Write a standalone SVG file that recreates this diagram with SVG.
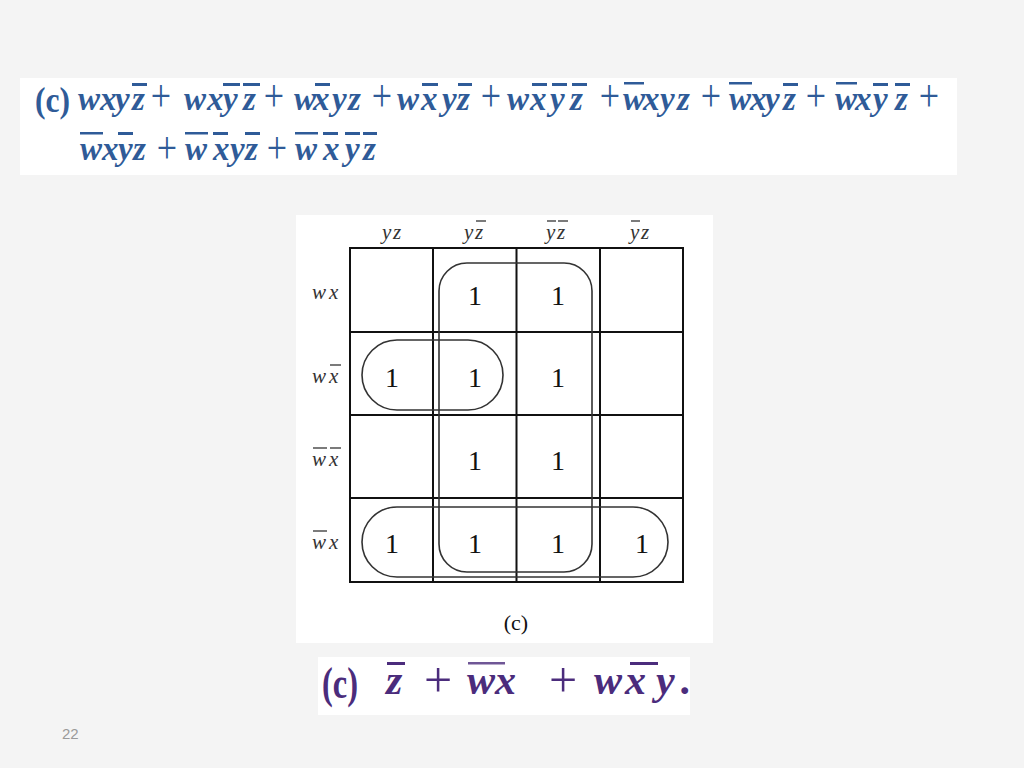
<svg xmlns="http://www.w3.org/2000/svg" width="1024" height="768" viewBox="0 0 1024 768">
<style>
.eq{font-family:"Liberation Serif",serif;font-style:italic;font-weight:bold;font-size:33px;fill:#2f5b98}
.pl{font-family:"Liberation Serif",serif;font-size:36px;fill:#2f5b98;text-anchor:middle}
.bar{fill:#2f5b98}
.res{font-family:"Liberation Serif",serif;font-style:italic;font-weight:bold;font-size:42px;fill:#4b2c7c}
.rpl{font-family:"Liberation Serif",serif;font-size:50px;fill:#4b2c7c;text-anchor:middle}
.rbar{fill:#4b2c7c}
.lab{font-family:"Liberation Serif",serif;font-style:italic;font-size:21px;fill:#333}
.one{font-family:"Liberation Serif",serif;font-size:28px;fill:#111;text-anchor:middle}
.grid{fill:none;stroke:#111;stroke-width:2}
.loop{fill:none;stroke:#333;stroke-width:1.6}
.lbar{stroke:#333;stroke-width:1.3}
</style>
<rect width="1024" height="768" fill="#f4f4f4"/>

<g id="expression">
<rect x="20" y="78" width="937" height="97" fill="#ffffff"/>
<text x="35" y="112" textLength="35" lengthAdjust="spacingAndGlyphs" style="font-family:'Liberation Serif',serif;font-weight:bold;font-size:36px;fill:#2f5b98">(c)</text>
<!-- line 1 -->
<text class="eq" x="78 100 115 132" y="110">wxyz</text>
<rect class="bar" x="132" y="83" width="15" height="3"/>
<text class="pl" transform="translate(161 99) scale(1 1.3)" x="0" y="9">+</text>
<text class="eq" x="184 207 223 243" y="110">wxyz</text>
<rect class="bar" x="223" y="83" width="17" height="3"/>
<rect class="bar" x="243" y="83" width="17" height="3"/>
<text class="pl" transform="translate(274 99) scale(1 1.3)" x="0" y="9">+</text>
<text class="eq" x="294 313 332 348" y="110">wxyz</text>
<rect class="bar" x="315" y="83" width="15" height="3"/>
<text class="pl" transform="translate(382 99) scale(1 1.3)" x="0" y="9">+</text>
<text class="eq" x="397 421 442 457" y="110">wxyz</text>
<rect class="bar" x="422" y="83" width="16" height="3"/>
<rect class="bar" x="458" y="83" width="14" height="3"/>
<text class="pl" transform="translate(491 99) scale(1 1.3)" x="0" y="9">+</text>
<text class="eq" x="507 530 550 570" y="110">wxyz</text>
<rect class="bar" x="532" y="83" width="15" height="3"/>
<rect class="bar" x="552" y="83" width="15" height="3"/>
<rect class="bar" x="572" y="83" width="15" height="3"/>
<text class="pl" transform="translate(610 99) scale(1 1.3)" x="0" y="9">+</text>
<text class="eq" x="623 643 660 677" y="110">wxyz</text>
<rect class="bar" x="624" y="82" width="20" height="2.5"/>
<text class="pl" transform="translate(711 99) scale(1 1.3)" x="0" y="9">+</text>
<text class="eq" x="729 750 765 783" y="110">wxyz</text>
<rect class="bar" x="729" y="82" width="23" height="2.5"/>
<rect class="bar" x="783" y="83" width="15" height="3"/>
<text class="pl" transform="translate(816 99) scale(1 1.3)" x="0" y="9">+</text>
<text class="eq" x="835 855 873 895" y="110">wxyz</text>
<rect class="bar" x="836" y="82" width="21" height="2.5"/>
<rect class="bar" x="873" y="83" width="15" height="3"/>
<rect class="bar" x="895" y="83" width="15" height="3"/>
<text class="pl" transform="translate(929 99) scale(1 1.3)" x="0" y="9">+</text>
<!-- line 2 -->
<text class="eq" x="80 102 118 133" y="160">wxyz</text>
<rect class="bar" x="80" y="132" width="23" height="2.5"/>
<rect class="bar" x="118" y="132" width="15" height="3"/>
<text class="pl" transform="translate(167 151) scale(1 1.3)" x="0" y="9">+</text>
<text class="eq" x="185 213 230 245" y="160">wxyz</text>
<rect class="bar" x="185" y="132" width="23" height="2.5"/>
<rect class="bar" x="213" y="132" width="15" height="3"/>
<rect class="bar" x="245" y="132" width="15" height="3"/>
<text class="pl" transform="translate(277 151) scale(1 1.3)" x="0" y="9">+</text>
<text class="eq" x="295 323 345 363" y="160">wxyz</text>
<rect class="bar" x="295" y="132" width="23" height="2.5"/>
<rect class="bar" x="323" y="132" width="15" height="3"/>
<rect class="bar" x="345" y="132" width="15" height="3"/>
<rect class="bar" x="363" y="132" width="14" height="3"/>
</g>

<g id="kmap">
<rect x="296" y="215" width="417" height="428" fill="#ffffff"/>
<g id="col-labels">
<text class="lab" x="382 393" y="239">yz</text>
<text class="lab" x="464 475" y="239">yz</text>
<line class="lbar" x1="476" y1="221" x2="486" y2="221"/>
<text class="lab" x="546 557" y="239">yz</text>
<line class="lbar" x1="547" y1="221" x2="556" y2="221"/>
<line class="lbar" x1="558" y1="221" x2="568" y2="221"/>
<text class="lab" x="630 641" y="239">yz</text>
<line class="lbar" x1="631" y1="221" x2="640" y2="221"/>
</g>
<g id="row-labels">
<text class="lab" x="312 329" y="299">wx</text>
<text class="lab" x="312 329" y="383">wx</text>
<line class="lbar" x1="330" y1="365" x2="341" y2="365"/>
<text class="lab" x="312 329" y="466">wx</text>
<line class="lbar" x1="313" y1="448" x2="327" y2="448"/>
<line class="lbar" x1="330" y1="448" x2="341" y2="448"/>
<text class="lab" x="312 329" y="549">wx</text>
<line class="lbar" x1="313" y1="531" x2="327" y2="531"/>
</g>
<g id="grid">
<rect class="grid" x="350" y="248" width="333" height="334"/>
<line class="grid" x1="433" y1="248" x2="433" y2="582"/>
<line class="grid" x1="516.5" y1="248" x2="516.5" y2="582"/>
<line class="grid" x1="600" y1="248" x2="600" y2="582"/>
<line class="grid" x1="350" y1="332" x2="683" y2="332"/>
<line class="grid" x1="350" y1="415" x2="683" y2="415"/>
<line class="grid" x1="350" y1="498" x2="683" y2="498"/>
</g>
<g id="ones">
<text class="one" x="475" y="305">1</text>
<text class="one" x="558" y="305">1</text>
<text class="one" x="392" y="387">1</text>
<text class="one" x="475" y="387">1</text>
<text class="one" x="558" y="387">1</text>
<text class="one" x="475" y="470">1</text>
<text class="one" x="558" y="470">1</text>
<text class="one" x="392" y="553">1</text>
<text class="one" x="475" y="553">1</text>
<text class="one" x="558" y="553">1</text>
<text class="one" x="642" y="553">1</text>
</g>
<g id="loops">
<rect class="loop" x="439" y="263" width="153" height="309" rx="28" ry="28"/>
<rect class="loop" x="362" y="340" width="141" height="70" rx="35" ry="35"/>
<rect class="loop" x="362" y="507" width="306" height="70" rx="35" ry="35"/>
</g>
<text x="516" y="630" text-anchor="middle" style="font-family:'Liberation Serif',serif;font-size:22px;fill:#111">(c)</text>
</g>

<g id="result">
<rect x="318" y="657" width="372" height="58" fill="#ffffff"/>
<text x="322" y="698" textLength="36" lengthAdjust="spacingAndGlyphs" style="font-family:'Liberation Serif',serif;font-weight:bold;font-size:44px;fill:#4b2c7c">(c)</text>
<text class="res" x="386" y="694">z</text>
<rect class="rbar" x="387" y="662" width="18" height="3"/>
<text class="rpl" x="438" y="697">+</text>
<text class="res" x="467 495" y="694">wx</text>
<rect class="rbar" x="468" y="662" width="37" height="2.5" opacity="0.8"/>
<text class="rpl" x="563" y="697">+</text>
<text class="res" x="594 625 656 681" y="694">wxy.</text>
<rect class="rbar" x="630" y="662" width="28" height="3"/>
</g>

<text id="page-number" x="62" y="739" style="font-family:'Liberation Sans',sans-serif;font-size:15px;fill:#9a9a9a">22</text>
</svg>
